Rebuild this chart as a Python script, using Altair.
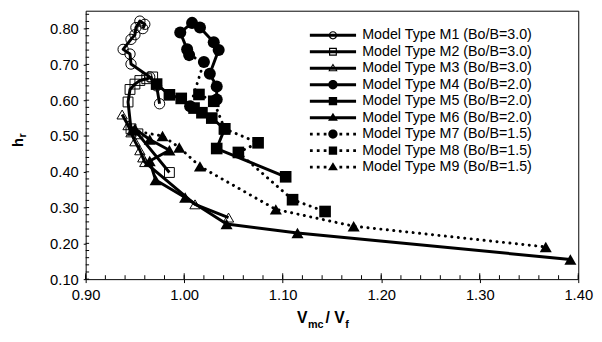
import altair as alt
import pandas as pd

# ---------------- data ----------------
series_names = [
    "Model Type M1 (Bo/B=3.0)",
    "Model Type M2 (Bo/B=3.0)",
    "Model Type M3 (Bo/B=3.0)",
    "Model Type M4 (Bo/B=2.0)",
    "Model Type M5 (Bo/B=2.0)",
    "Model Type M6 (Bo/B=2.0)",
    "Model Type M7 (Bo/B=1.5)",
    "Model Type M8 (Bo/B=1.5)",
    "Model Type M9 (Bo/B=1.5)",
]

m1_x = [0.975, 0.972, 0.965, 0.946, 0.945, 0.938, 0.946, 0.950, 0.951, 0.955, 0.960, 0.958]
m1_y = [0.590, 0.640, 0.665, 0.701, 0.729, 0.742, 0.770, 0.783, 0.803, 0.821, 0.812, 0.800]

m2_x = [0.968, 0.962, 0.955, 0.950, 0.945, 0.943, 0.946, 0.953, 0.985]
m2_y = [0.665, 0.660, 0.655, 0.645, 0.630, 0.595, 0.520, 0.506, 0.398]

m3_x = [0.937, 0.943, 0.946, 0.950, 0.955, 0.958, 0.960, 1.011, 1.045]
m3_y = [0.560, 0.530, 0.510, 0.485, 0.460, 0.440, 0.427, 0.309, 0.272]

m4_x = [1.003, 0.996, 1.008, 1.016, 1.030, 1.035, 1.026, 1.033, 1.033]
m4_y = [0.742, 0.789, 0.816, 0.803, 0.762, 0.740, 0.674, 0.638, 0.602]

m5_x = [0.972, 0.985, 0.997, 1.010, 1.018, 1.028, 1.041, 1.033, 1.103]
m5_y = [0.645, 0.615, 0.605, 0.578, 0.565, 0.550, 0.520, 0.465, 0.386]

m6_x = [0.950, 0.965, 0.985, 0.965, 0.971, 1.001, 1.043, 1.115, 1.392]
m6_y = [0.520, 0.490, 0.460, 0.430, 0.377, 0.328, 0.254, 0.229, 0.155]

m7_x = [1.005, 1.020, 1.006]
m7_y = [0.726, 0.707, 0.583]

m8_x = [1.015, 1.030, 1.041, 1.075, 1.055, 1.110, 1.143]
m8_y = [0.616, 0.597, 0.520, 0.481, 0.454, 0.322, 0.289]

m9_x = [0.948, 0.978, 0.995, 1.016, 1.093, 1.172, 1.367]
m9_y = [0.515, 0.500, 0.468, 0.415, 0.295, 0.248, 0.190]

series_x = [m1_x, m2_x, m3_x, m4_x, m5_x, m6_x, m7_x, m8_x, m9_x]
series_y = [m1_y, m2_y, m3_y, m4_y, m5_y, m6_y, m7_y, m8_y, m9_y]

x_major = [0.90, 1.00, 1.10, 1.20, 1.30, 1.40]
y_major = [0.10, 0.20, 0.30, 0.40, 0.50, 0.60, 0.70, 0.80]
x_minor = [round(0.90 + 0.02 * k, 2) for k in range(26)]
y_minor = [round(0.10 + 0.02 * k, 2) for k in range(38)]

x_title_parts = ["V", "mc", "/ V", "f"]
y_title_parts = ["h", "r"]

# ---------------- styles ----------------
marker_shape = ["circle", "square", "triangle-up"] * 3
marker_filled = [False, False, False, True, True, True, True, True, True]
marker_size = [110, 100, 110, 150, 140, 150, 150, 140, 150]
dotted = [False] * 6 + [True] * 3

W, H = 501, 273
FONT = "Liberation Sans"


def f(v):
    return f"{v:.3f}".rstrip("0").rstrip(".")


def circ(R, ccw=False):
    s = "0" if ccw else "1"
    return f"M{f(-R)},0A{f(R)},{f(R)} 0 1,{s} {f(R)},0A{f(R)},{f(R)} 0 1,{s} {f(-R)},0Z"


def sq(a, ccw=False, cx=0.0):
    l, r = cx - a, cx + a
    if ccw:
        return f"M{f(l)},{f(-a)}V{f(a)}H{f(r)}V{f(-a)}Z"
    return f"M{f(l)},{f(-a)}H{f(r)}V{f(a)}H{f(l)}Z"


def tri(w, top, bot, ccw=False):
    if ccw:
        return f"M0,{f(-top)}L{f(-w)},{f(bot)}L{f(w)},{f(bot)}Z"
    return f"M0,{f(-top)}L{f(w)},{f(bot)}L{f(-w)},{f(bot)}Z"


solid_seg = "M-4.7,-0.3H4.7V0.3H-4.7Z"
dot_seg = "".join(sq(0.28, cx=x) for x in [-4.4, -3.0, -1.6, 1.6, 3.0, 4.4])

open_markers = [
    circ(0.85) + circ(0.6, True),
    sq(0.8) + sq(0.56, True),
    tri(0.95, 0.95, 0.6) + tri(0.6, 0.55, 0.4, True),
]
full_markers = [circ(0.95), sq(0.85), tri(1.0, 1.0, 0.65)]

legend_paths = [
    solid_seg + open_markers[0],
    solid_seg + open_markers[1],
    solid_seg + open_markers[2],
    solid_seg + full_markers[0],
    solid_seg + full_markers[1],
    solid_seg + full_markers[2],
    dot_seg + full_markers[0],
    dot_seg + full_markers[1],
    dot_seg + full_markers[2],
]

# ---------------- table ----------------
rows = []
for name, xs, ys in zip(series_names, series_x, series_y):
    for i, (xv, yv) in enumerate(zip(xs, ys)):
        rows.append({"series": name, "x": xv, "y": yv, "i": i})
df = pd.DataFrame(rows)

x_scale = alt.Scale(domain=[0.90, 1.40], nice=False, zero=False)
y_scale = alt.Scale(domain=[0.10, 0.85], nice=False, zero=False)
X = alt.X("x:Q", scale=x_scale, title=None,
          axis=alt.Axis(values=x_major, format=".2f", tickSize=3.5, labelPadding=5,
                        labelFlush=False, labelFontSize=15, grid=False, domain=False))
Y = alt.Y("y:Q", scale=y_scale, title=None,
          axis=alt.Axis(values=y_major, format=".2f", tickSize=2.5, labelPadding=5,
                        labelFontSize=15, grid=False, domain=False))

layers = []

# inner ticks
layers.append(alt.Chart(pd.DataFrame({"x": x_minor})).mark_rule(color="black", strokeWidth=1)
              .encode(x=X, y=alt.value(H), y2=alt.value(H - 4)))
layers.append(alt.Chart(pd.DataFrame({"x": x_major})).mark_rule(color="black", strokeWidth=1)
              .encode(x=X, y=alt.value(H), y2=alt.value(H - 6)))
layers.append(alt.Chart(pd.DataFrame({"y": y_minor})).mark_rule(color="black", strokeWidth=1)
              .encode(y=Y, x=alt.value(0), x2=alt.value(3.5)))

base = alt.Chart(df)
for k, name in enumerate(series_names):
    sel = base.transform_filter(alt.datum.series == name)
    line_kw = dict(color="black", strokeWidth=3, strokeJoin="round")
    if dotted[k]:
        line_kw.update(strokeDash=[0.1, 6.5], strokeCap="round")
    layers.append(sel.mark_line(**line_kw).encode(x=X, y=Y, order="i:Q"))
for k, name in enumerate(series_names):
    sel = base.transform_filter(alt.datum.series == name)
    layers.append(sel.mark_point(shape=marker_shape[k], filled=marker_filled[k], size=marker_size[k],
                                 color="black", strokeWidth=1, opacity=1)
                  .encode(x=X, y=Y))

# legend carrier (invisible points, visible legend)
layers.append(base.mark_point(filled=True, color="black", opacity=0, size=100).encode(
    x=X, y=Y,
    shape=alt.Shape("series:N", scale=alt.Scale(domain=series_names, range=legend_paths),
                    legend=alt.Legend(title=None, orient="none", legendX=228, legendY=17.75,
                                      symbolSize=100, symbolFillColor="black", symbolStrokeWidth=0,
                                      symbolOpacity=1, symbolOffset=16.25, labelOffset=22.5,
                                      labelFont=FONT, labelFontSize=14.5, labelColor="black",
                                      rowPadding=1.75, padding=0, labelLimit=400)),
))

# axis titles with subscripts
one = pd.DataFrame({"a": [0]})
title_specs = [
    (x_title_parts[0], 215, 318, 16, 0, "left"),
    (x_title_parts[1], 226, 323, 11, 0, "left"),
    (x_title_parts[2], 244, 318, 16, 0, "left"),
    (x_title_parts[3], 264, 323, 11, 0, "left"),
    (y_title_parts[0], -64, 134, 15, 270, "center"),
    (y_title_parts[1], -60.5, 129, 11, 270, "left"),
]
for txt, tx, ty, fs, ang, al in title_specs:
    kw = dict(text=txt, font=FONT, fontWeight="bold", fontSize=fs, color="black",
              align=al, baseline="alphabetic")
    if ang:
        kw["angle"] = ang
    layers.append(alt.Chart(one).mark_text(**kw).encode(x=alt.value(tx), y=alt.value(ty)))

chart = (
    alt.layer(*layers)
    .properties(width=W, height=H, padding={"left": 3, "top": 0, "right": 0, "bottom": 0},
                background="white")
    .configure_view(stroke="black", strokeWidth=1)
    .configure_axis(labelFont=FONT, labelColor="black", tickColor="black", tickWidth=1)
)

chart.save("out.html", embed_options={"renderer": "svg", "actions": False})
